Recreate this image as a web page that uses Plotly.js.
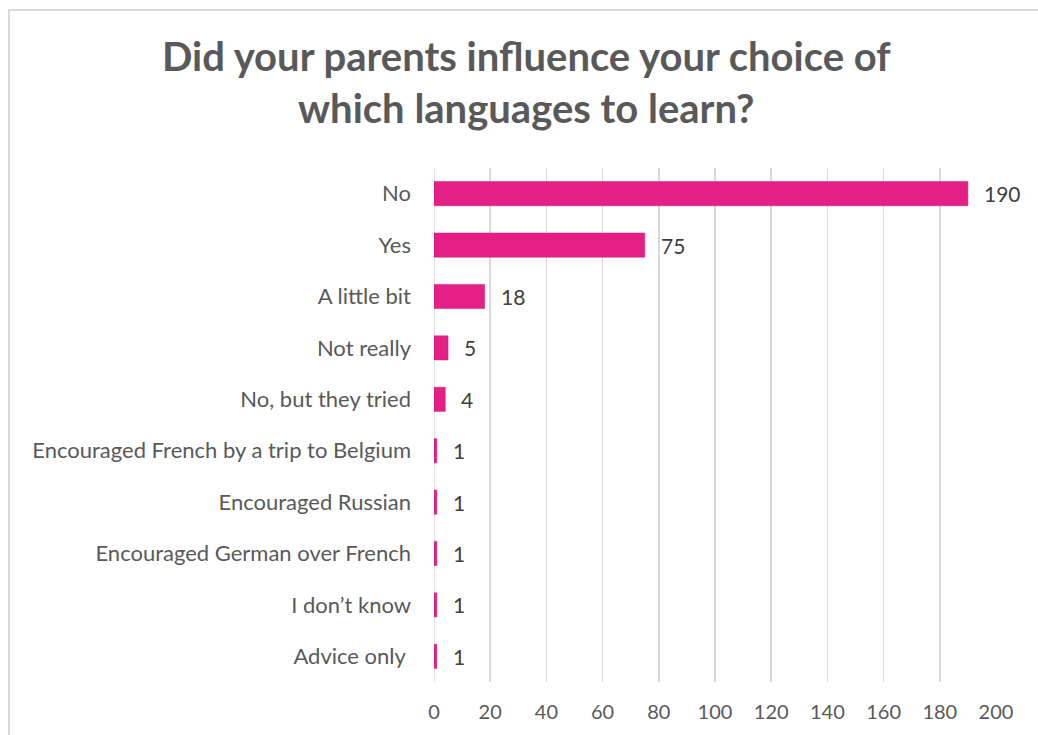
<!DOCTYPE html>
<html><head><meta charset="utf-8">
<script src="https://cdn.plot.ly/plotly-3.0.1.min.js"></script>
<style>
html,body{margin:0;padding:0;background:#fff;overflow:hidden}
#wrap{position:relative;width:1038px;height:735px}
#frame{position:absolute;left:8px;top:9px;width:1100px;height:800px;border-left:2px solid #d9d9d9;border-top:2px solid #d9d9d9;pointer-events:none}
#chart{position:absolute;left:0;top:0;width:1038px;height:735px}
</style></head>
<body><div id="wrap"><div id="chart"></div><div id="frame"></div></div>
<script>
const categories = ["No","Yes","A little bit","Not really","No, but they tried","Encouraged French by a trip to Belgium","Encouraged Russian","Encouraged German over French","I don\u2019t know","Advice only "];
const values = [190,75,18,5,4,1,1,1,1,1];
const xTicks = [0,20,40,60,80,100,120,140,160,180,200];
const titleText = "Did your parents influence your choice of<br>which languages to learn?";

const font = "Lato, Carlito, Calibri, 'Open Sans', sans-serif";
const trace = {
  type: "bar", orientation: "h",
  y: categories, x: values,
  marker: {color: "#e41f86", line: {color: "#d4147a", width: 0.5}},
  hoverinfo: "skip"
};
const labels = categories.map((c, i) => ({
  x: values[i], y: c, xref: "x", yref: "y", text: String(values[i]),
  showarrow: false, xanchor: "left", yanchor: "middle", xshift: 14,
  font: {family: font, size: 21, color: "#404040"}
}));
const layout = {
  width: 1038, height: 735,
  margin: {l: 434, r: 42, t: 168, b: 53},
  paper_bgcolor: "rgba(0,0,0,0)", plot_bgcolor: "rgba(0,0,0,0)",
  bargap: 0.53,
  title: {text: titleText, x: 0.507, xanchor: "center", yref: "container", y: 0.903, yanchor: "middle",
          font: {family: font, size: 40, color: "#595959", weight: "bold"}},
  xaxis: {range: [0, 200], tickvals: xTicks, showgrid: true, gridcolor: "#d9d9d9", gridwidth: 1.5,
          zeroline: false, showline: false, ticks: "", fixedrange: true,
          tickfont: {family: font, size: 20, color: "#595959"}, ticklabelstandoff: 16},
  yaxis: {categoryorder: "array", categoryarray: categories, autorange: "reversed",
          showgrid: false, zeroline: false, showline: false, ticks: "",
          tickfont: {family: font, size: 22, color: "#595959"}, ticklabelstandoff: 22},
  showlegend: false,
  annotations: labels,
  shapes: [{type: "line", xref: "x", yref: "paper", x0: 0, x1: 0, y0: 0, y1: 1, line: {color: "#d9d9d9", width: 1.5}, layer: "below"}]
};
Plotly.newPlot("chart", [trace], layout, {staticPlot: true});
</script></body></html>
